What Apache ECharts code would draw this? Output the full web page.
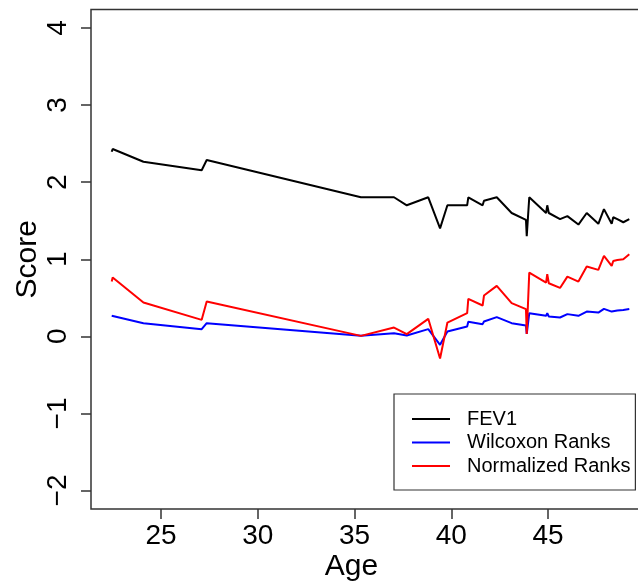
<!DOCTYPE html>
<html>
<head>
<meta charset="utf-8">
<script src="https://cdn.jsdelivr.net/npm/echarts@6/dist/echarts.min.js"></script>
<style>
  html, body { margin: 0; padding: 0; background: #fff; }
  #chart { width: 638px; height: 583px; }
</style>
</head>
<body>
<div id="chart"></div>
<script>
// Age at each observation (shared by all three series)
const ages = [22.45, 22.50, 24.09, 27.10, 27.36, 35.33, 37.04, 37.70, 38.81, 39.42,
              39.80, 40.82, 40.88, 41.62, 41.69, 42.35, 43.12, 43.86, 43.90, 44.03,
              44.90, 44.96, 45.04, 45.62, 46.00, 46.57, 47.00, 47.60, 47.89, 48.29,
              48.37, 48.58, 48.89, 49.20];

const fev1 = [2.395, 2.43, 2.265, 2.155, 2.287, 1.804, 1.804, 1.70, 1.804, 1.40,
              1.70, 1.70, 1.804, 1.70, 1.76, 1.804, 1.60, 1.51, 1.30, 1.804,
              1.60, 1.70, 1.60, 1.52, 1.56, 1.45, 1.60, 1.46, 1.65, 1.46,
              1.545, 1.52, 1.48, 1.52];

const wilcoxonRanks = [0.266, 0.279, 0.171, 0.093, 0.171, 0.006, 0.041, 0.01, 0.093, -0.11,
                       0.062, 0.127, 0.188, 0.158, 0.192, 0.249, 0.171, 0.14, 0.032, 0.30,
                       0.266, 0.30, 0.257, 0.244, 0.288, 0.266, 0.321, 0.308, 0.356, 0.321,
                       0.334, 0.334, 0.343, 0.356];

const normalizedRanks = [0.71, 0.762, 0.438, 0.214, 0.451, 0.006, 0.114, 0.028, 0.227, -0.287,
                         0.179, 0.30, 0.486, 0.40, 0.529, 0.654, 0.43, 0.352, 0.032, 0.827,
                         0.697, 0.806, 0.689, 0.628, 0.775, 0.71, 0.905, 0.862, 1.043, 0.914,
                         0.978, 0.991, 1.0, 1.065];

const xTicks = [25, 30, 35, 40, 45];
const yTicks = [-2, -1, 0, 1, 2, 3, 4];

const seriesNames = ['FEV1', 'Wilcoxon Ranks', 'Normalized Ranks'];
const seriesColors = ['#000000', '#0000ff', '#ff0000'];
const seriesValues = [fev1, wilcoxonRanks, normalizedRanks];

const FONT = '"Liberation Sans", Arial, Helvetica, sans-serif';

const chart = echarts.init(document.getElementById('chart'), null, { renderer: 'canvas' });

chart.setOption({
  animation: false,
  backgroundColor: '#ffffff',
  grid: {
    left: 91,
    top: 9.5,
    width: 559,
    height: 499.5,
    show: true,
    borderColor: '#333',
    borderWidth: 1.5,
    containLabel: false,
    outerBoundsMode: 'none'
  },
  xAxis: {
    type: 'value',
    min: 21.38,
    max: 50.27,
    name: 'Age',
    nameLocation: 'middle',
    nameGap: 43,
    nameMoveOverlap: false,
    nameTextStyle: { fontFamily: FONT, fontSize: 30, color: '#000', padding: [0, 38, 0, 0] },
    axisLine: { show: false, onZero: false },
    splitLine: { show: false },
    axisTick: { show: true, customValues: xTicks, length: 10, lineStyle: { color: '#333', width: 1.5 } },
    axisLabel: { customValues: xTicks, margin: 13, fontFamily: FONT, fontSize: 28, color: '#000' }
  },
  yAxis: {
    type: 'value',
    min: -2.24,
    max: 4.24,
    name: 'Score',
    nameLocation: 'middle',
    nameRotate: 90,
    nameGap: 48,
    nameMoveOverlap: false,
    nameTextStyle: { fontFamily: FONT, fontSize: 30, color: '#000' },
    axisLine: { show: false, onZero: false },
    splitLine: { show: false },
    axisTick: { show: true, customValues: yTicks, length: 10, lineStyle: { color: '#333', width: 1.5 } },
    axisLabel: {
      customValues: yTicks,
      rotate: 90,
      margin: 19,
      fontFamily: FONT,
      fontSize: 28,
      color: '#000',
      formatter: v => String(v).replace('-', '\u2212')
    }
  },
  legend: {
    data: seriesNames,
    orient: 'vertical',
    left: 394,
    top: 394,
    padding: [15, 5, 14, 18],
    icon: 'path://M0,0 H38 V2 H0 Z',
    itemWidth: 38,
    itemHeight: 2,
    itemGap: 3.5,
    borderColor: '#333',
    borderWidth: 1.2,
    backgroundColor: '#fff',
    textStyle: { fontFamily: FONT, fontSize: 20, color: '#000', lineHeight: 20, padding: [0, 0, 0, 12] }
  },
  series: seriesNames.map((name, i) => ({
    name: name,
    type: 'line',
    showSymbol: false,
    symbol: 'none',
    z: 2 + i,
    data: ages.map((a, j) => [a, seriesValues[i][j]]),
    lineStyle: { color: seriesColors[i], width: 2 },
    itemStyle: { color: seriesColors[i] }
  }))
});
</script>
</body>
</html>
